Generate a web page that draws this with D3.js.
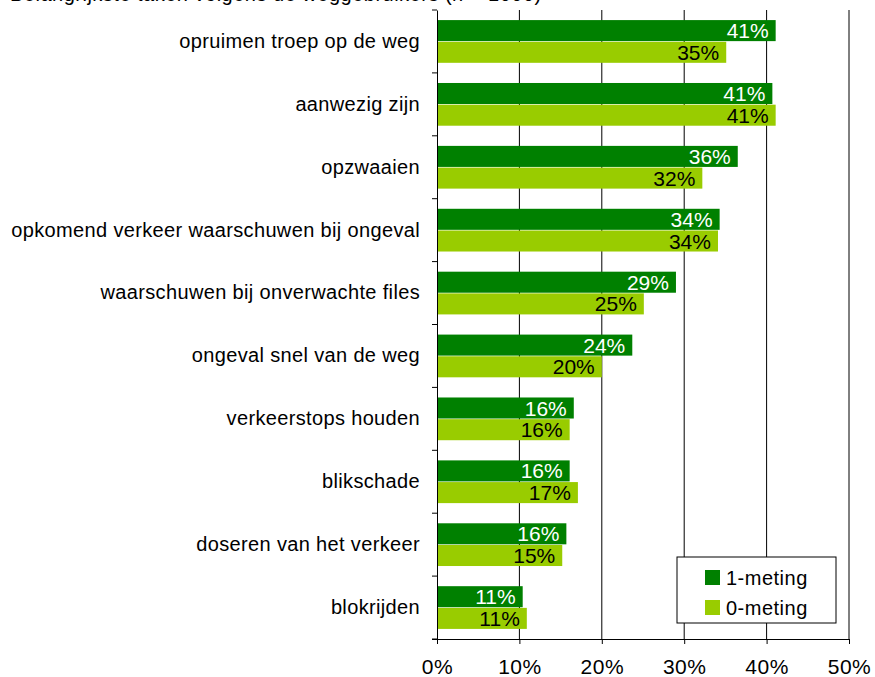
<!DOCTYPE html>
<html lang="nl">
<head>
<meta charset="UTF-8">
<title>Taken</title>
<script src="https://d3js.org/d3.v7.min.js"></script>
<style>
  body { margin: 0; background: #fff; }
  svg { display: block; font-family: "Liberation Sans", Arial, sans-serif; }
</style>
</head>
<body>
<svg id="chart" width="875" height="677"></svg>
<script>
// categorieën (van boven naar beneden)
const categories = [
  "opruimen troep op de weg",
  "aanwezig zijn",
  "opzwaaien",
  "opkomend verkeer waarschuwen bij ongeval",
  "waarschuwen bij onverwachte files",
  "ongeval snel van de weg",
  "verkeerstops houden",
  "blikschade",
  "doseren van het verkeer",
  "blokrijden"
];
const series = ["1-meting", "0-meting"];
const meting1 = [41.1, 40.7, 36.5, 34.3, 29.0, 23.7, 16.6, 16.1, 15.7, 10.4];
const meting0 = [35.1, 41.1, 32.2, 34.1, 25.1, 20.0, 16.1, 17.1, 15.2, 10.9];
const labels1 = ["41%", "41%", "36%", "34%", "29%", "24%", "16%", "16%", "16%", "11%"];
const labels0 = ["35%", "41%", "32%", "34%", "25%", "20%", "16%", "17%", "15%", "11%"];
const xTicks = [0, 10, 20, 30, 40, 50];

const colors = { "1-meting": "#008000", "0-meting": "#99cc00" };
const labelColors = { "1-meting": "#ffffff", "0-meting": "#000000" };

const svg = d3.select("#chart");
const mLeft = 437, mRight = 849, mTop = 10, mBottom = 639;

const x = d3.scaleLinear().domain([0, 50]).range([mLeft, mRight]);
const y = d3.scaleBand().domain(categories).range([mTop, mBottom]).paddingInner(0.3).paddingOuter(0.15);
const ySub = d3.scaleBand().domain(series).range([0, y.bandwidth()]).padding(0.03);

// titel (grotendeels buiten beeld)
svg.append("text")
  .attr("x", 10).attr("y", 1)
  .attr("font-size", 20).attr("fill", "#000")
  .style("letter-spacing", "0.5px")
  .text("Belangrijkste taken volgens de weggebruikers (n = 1000)");

// rasterlijnen
svg.append("g").selectAll("line")
  .data(xTicks.slice(1))
  .join("line")
  .attr("x1", d => x(d)).attr("x2", d => x(d))
  .attr("y1", mTop).attr("y2", mBottom)
  .attr("stroke", "#000").attr("stroke-width", 1);

// balken
const rows = categories.map((c, i) => ({
  cat: c,
  vals: [
    { s: "1-meting", v: meting1[i], l: labels1[i] },
    { s: "0-meting", v: meting0[i], l: labels0[i] }
  ]
}));

const groups = svg.append("g").selectAll("g")
  .data(rows)
  .join("g")
  .attr("transform", d => `translate(0,${y(d.cat)})`);

groups.selectAll("rect")
  .data(d => d.vals)
  .join("rect")
  .attr("x", x(0))
  .attr("y", d => ySub(d.s))
  .attr("width", d => x(d.v) - x(0))
  .attr("height", ySub.bandwidth())
  .attr("fill", d => colors[d.s]);

groups.selectAll("text")
  .data(d => d.vals)
  .join("text")
  .attr("x", d => x(d.v) - 7)
  .attr("y", d => ySub(d.s) + ySub.bandwidth() / 2)
  .attr("dy", "0.36em")
  .attr("text-anchor", "end")
  .attr("font-size", 21)
  .attr("fill", d => labelColors[d.s])
  .text(d => d.l);

// y-as
const yAxis = svg.append("g")
  .attr("transform", `translate(${mLeft},0)`)
  .call(d3.axisLeft(y).tickSize(0).tickPadding(17));
yAxis.select(".domain").attr("stroke", "#000");
yAxis.selectAll("text").attr("font-size", 20).attr("fill", "#000")
  .attr("font-family", "Liberation Sans, Arial, sans-serif")
  .style("letter-spacing", "0.35px");
// scheidingstreepjes tussen categorieën
const bounds = categories.map(c => y(c) - y.step() * y.paddingInner() / 2).concat([mBottom]);
svg.append("g").selectAll("line")
  .data(bounds)
  .join("line")
  .attr("x1", mLeft - 5).attr("x2", mLeft)
  .attr("y1", d => d).attr("y2", d => d)
  .attr("stroke", "#000");

// x-as
const xAxis = svg.append("g")
  .attr("transform", `translate(0,${mBottom})`)
  .call(d3.axisBottom(x).tickValues(xTicks).tickSize(5).tickPadding(15).tickFormat(d => d + "%"));
xAxis.select(".domain").attr("d", `M${mLeft - 5},0.5H${mRight}`).attr("stroke", "#000");
xAxis.selectAll("text").attr("font-size", 21).attr("fill", "#000")
  .attr("font-family", "Liberation Sans, Arial, sans-serif")
  .style("letter-spacing", "0.5px");

// legenda
const legend = svg.append("g").attr("transform", "translate(677,557)");
legend.append("rect")
  .attr("width", 159).attr("height", 66)
  .attr("fill", "#fff").attr("stroke", "#000");
const li = legend.selectAll("g")
  .data(series)
  .join("g")
  .attr("transform", (d, i) => `translate(28,${13 + i * 30})`);
li.append("rect").attr("width", 15).attr("height", 15).attr("fill", d => colors[d]);
li.append("text").attr("x", 21).attr("y", 8).attr("dy", "0.36em")
  .attr("font-size", 20).attr("fill", "#000")
  .style("letter-spacing", "0.5px").text(d => d);
</script>
</body>
</html>
